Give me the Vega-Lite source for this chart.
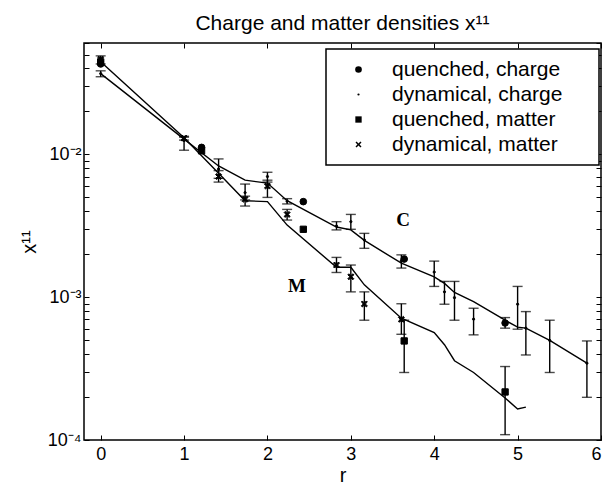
{
  "$schema": "https://vega.github.io/schema/vega-lite/v6.json",
  "autosize": "none",
  "width": 517,
  "height": 397,
  "padding": {"left": 84, "top": 43, "right": 4, "bottom": 46},
  "background": "white",
  "title": {
    "text": "Charge and matter densities x¹¹",
    "font": "Liberation Sans",
    "fontSize": 21,
    "fontWeight": "normal",
    "color": "black",
    "anchor": "middle",
    "baseline": "alphabetic",
    "offset": -8
  },
  "datasets": {
    "lines": [
      {"curve": "C", "r": 0, "v": 0.0368},
      {"curve": "C", "r": 1, "v": 0.0128},
      {"curve": "C", "r": 1.414, "v": 0.0083},
      {"curve": "C", "r": 1.732, "v": 0.0066},
      {"curve": "C", "r": 2, "v": 0.0063},
      {"curve": "C", "r": 2.236, "v": 0.00474},
      {"curve": "C", "r": 2.828, "v": 0.0031},
      {"curve": "C", "r": 3, "v": 0.00296},
      {"curve": "C", "r": 3.162, "v": 0.0025},
      {"curve": "C", "r": 3.606, "v": 0.00173},
      {"curve": "C", "r": 4, "v": 0.00139},
      {"curve": "C", "r": 4.123, "v": 0.00125},
      {"curve": "C", "r": 4.243, "v": 0.00108},
      {"curve": "C", "r": 4.472, "v": 0.00093},
      {"curve": "C", "r": 4.85, "v": 0.00069},
      {"curve": "C", "r": 5, "v": 0.000617},
      {"curve": "C", "r": 5.099, "v": 0.000607},
      {"curve": "C", "r": 5.385, "v": 0.000498},
      {"curve": "C", "r": 5.831, "v": 0.000345},
      {"curve": "M", "r": 0, "v": 0.0445},
      {"curve": "M", "r": 1, "v": 0.0131},
      {"curve": "M", "r": 1.414, "v": 0.00737},
      {"curve": "M", "r": 1.732, "v": 0.00474},
      {"curve": "M", "r": 2, "v": 0.00467},
      {"curve": "M", "r": 2.236, "v": 0.0032},
      {"curve": "M", "r": 2.828, "v": 0.00162},
      {"curve": "M", "r": 3, "v": 0.00162},
      {"curve": "M", "r": 3.162, "v": 0.00122},
      {"curve": "M", "r": 3.606, "v": 0.000713},
      {"curve": "M", "r": 4, "v": 0.000565},
      {"curve": "M", "r": 4.123, "v": 0.000465},
      {"curve": "M", "r": 4.243, "v": 0.000359},
      {"curve": "M", "r": 4.472, "v": 0.000297},
      {"curve": "M", "r": 4.85, "v": 0.000197},
      {"curve": "M", "r": 5, "v": 0.000165},
      {"curve": "M", "r": 5.099, "v": 0.00017}
    ],
    "pts": [
      {"series": "quenched, charge", "r": 0, "v": 0.043, "lo": null, "hi": null},
      {"series": "quenched, charge", "r": 1.21, "v": 0.0112, "lo": null, "hi": null},
      {"series": "quenched, charge", "r": 2.43, "v": 0.00467, "lo": null, "hi": null},
      {"series": "quenched, charge", "r": 3.64, "v": 0.00185, "lo": null, "hi": null},
      {"series": "quenched, charge", "r": 4.85, "v": 0.00066, "lo": null, "hi": null},
      {"series": "quenched, matter", "r": 0, "v": 0.0445, "lo": null, "hi": null},
      {"series": "quenched, matter", "r": 1.21, "v": 0.0106, "lo": null, "hi": null},
      {"series": "quenched, matter", "r": 2.43, "v": 0.00299, "lo": null, "hi": null},
      {"series": "quenched, matter", "r": 3.64, "v": 0.000494, "lo": 0.000297, "hi": 0.00069},
      {"series": "quenched, matter", "r": 4.85, "v": 0.000217, "lo": 0.000109, "hi": 0.000327},
      {"series": "dynamical, charge", "r": 0, "v": 0.0368, "lo": 0.035, "hi": 0.0385},
      {"series": "dynamical, charge", "r": 1, "v": 0.0125, "lo": 0.0107, "hi": 0.0132},
      {"series": "dynamical, charge", "r": 1.414, "v": 0.0079, "lo": 0.0068, "hi": 0.0093},
      {"series": "dynamical, charge", "r": 1.732, "v": 0.0054, "lo": 0.0048, "hi": 0.0062},
      {"series": "dynamical, charge", "r": 2, "v": 0.007, "lo": 0.0064, "hi": 0.0075},
      {"series": "dynamical, charge", "r": 2.236, "v": 0.0047, "lo": 0.0045, "hi": 0.0049},
      {"series": "dynamical, charge", "r": 2.828, "v": 0.00315, "lo": 0.00296, "hi": 0.00338},
      {"series": "dynamical, charge", "r": 3, "v": 0.00338, "lo": 0.00299, "hi": 0.0038},
      {"series": "dynamical, charge", "r": 3.162, "v": 0.00252, "lo": 0.0022, "hi": 0.0028},
      {"series": "dynamical, charge", "r": 3.606, "v": 0.0018, "lo": 0.0016, "hi": 0.00198},
      {"series": "dynamical, charge", "r": 4, "v": 0.0015, "lo": 0.00119, "hi": 0.00179},
      {"series": "dynamical, charge", "r": 4.123, "v": 0.00109, "lo": 0.000893, "hi": 0.00129},
      {"series": "dynamical, charge", "r": 4.243, "v": 0.000993, "lo": 0.00069, "hi": 0.00129},
      {"series": "dynamical, charge", "r": 4.472, "v": 0.000702, "lo": 0.000545, "hi": 0.000837},
      {"series": "dynamical, charge", "r": 4.85, "v": 0.00066, "lo": 0.000607, "hi": 0.00072},
      {"series": "dynamical, charge", "r": 5, "v": 0.000893, "lo": 0.000597, "hi": 0.00119},
      {"series": "dynamical, charge", "r": 5.099, "v": 0.000607, "lo": 0.000394, "hi": 0.000793},
      {"series": "dynamical, charge", "r": 5.385, "v": 0.000498, "lo": 0.000297, "hi": 0.00069},
      {"series": "dynamical, charge", "r": 5.831, "v": 0.000345, "lo": 0.000199, "hi": 0.000494},
      {"series": "dynamical, matter", "r": 0, "v": 0.0465, "lo": 0.043, "hi": 0.049},
      {"series": "dynamical, matter", "r": 1, "v": 0.013, "lo": 0.0126, "hi": 0.0134},
      {"series": "dynamical, matter", "r": 1.414, "v": 0.007, "lo": 0.0064, "hi": 0.0077},
      {"series": "dynamical, matter", "r": 1.732, "v": 0.00485, "lo": 0.00435, "hi": 0.0051},
      {"series": "dynamical, matter", "r": 2, "v": 0.006, "lo": 0.005, "hi": 0.0066},
      {"series": "dynamical, matter", "r": 2.236, "v": 0.0038, "lo": 0.00347, "hi": 0.00412},
      {"series": "dynamical, matter", "r": 2.828, "v": 0.00168, "lo": 0.00149, "hi": 0.0019},
      {"series": "dynamical, matter", "r": 3, "v": 0.00139, "lo": 0.00109, "hi": 0.00168},
      {"series": "dynamical, matter", "r": 3.162, "v": 0.000897, "lo": 0.00069, "hi": 0.00109},
      {"series": "dynamical, matter", "r": 3.606, "v": 0.0007, "lo": 0.00055, "hi": 0.0009}
    ],
    "labels": [
      {"label": "C", "r": 3.626, "v": 0.00348},
      {"label": "M", "r": 2.355, "v": 0.00119}
    ]
  },
  "config": {
    "view": {"stroke": "black", "strokeWidth": 1.5},
    "axis": {
      "domain": false,
      "grid": false,
      "tickColor": "black",
      "tickSize": -5,
      "tickWidth": 1,
      "labelColor": "black",
      "labelFont": "Liberation Sans",
      "labelFontSize": 18,
      "titleFont": "Liberation Sans",
      "titleFontSize": 20,
      "titleFontWeight": "normal",
      "titleColor": "black"
    },
    "legend": {
      "orient": "none",
      "legendX": 242,
      "legendY": 6,
      "strokeColor": "black",
      "strokeWidth": 1.5,
      "fillColor": "white",
      "padding": 10,
      "labelFont": "Liberation Sans",
      "labelFontSize": 21,
      "labelColor": "black",
      "labelOffset": 23,
      "labelLimit": 0,
      "rowPadding": 3,
      "symbolOffset": 12,
      "symbolFillColor": "black",
      "symbolStrokeColor": "black",
      "symbolStrokeWidth": 1.2,
      "symbolOpacity": 1,
      "titleOrient": "right",
      "titlePadding": 27,
      "titleFontSize": 10
    }
  },
  "layer": [
    {
      "data": {"name": "lines"},
      "mark": {"type": "line", "color": "black", "strokeWidth": 1.4},
      "encoding": {
        "x": {
          "field": "r", "type": "quantitative",
          "scale": {"domain": [-0.2, 6], "nice": false, "zero": false},
          "axis": {"orient": "bottom", "values": [0, 1, 2, 3, 4, 5, 6], "title": "r", "labelPadding": 10, "titlePadding": 2}
        },
        "y": {
          "field": "v", "type": "quantitative",
          "scale": {"type": "log", "domain": [0.0001, 0.0603], "nice": false},
          "axis": {
            "orient": "left",
            "values": [0.0001, 0.0002, 0.0003, 0.0004, 0.0005, 0.0006, 0.0007, 0.0008, 0.0009, 0.001, 0.002, 0.003, 0.004, 0.005, 0.006, 0.007, 0.008, 0.009, 0.01, 0.02, 0.03, 0.04, 0.05, 0.06],
            "labelExpr": "datum.value == 0.0001 ? '10⁻⁴' : datum.value == 0.001 ? '10⁻³' : datum.value == 0.01 ? '10⁻²' : ''",
            "title": "x¹¹",
            "labelPadding": 8,
            "titlePadding": 8
          }
        },
        "detail": {"field": "curve"}
      }
    },
    {
      "data": {"name": "pts"},
      "transform": [{"filter": "datum.lo != null"}],
      "mark": {"type": "errorbar", "color": "black", "thickness": 1.4, "ticks": {"size": 10, "thickness": 1.4, "color": "black"}},
      "encoding": {
        "x": {
          "field": "r", "type": "quantitative",
          "scale": {"domain": [-0.2, 6], "nice": false, "zero": false},
          "axis": {"orient": "top", "values": [0, 1, 2, 3, 4, 5, 6], "labels": false, "title": null}
        },
        "y": {
          "field": "lo", "type": "quantitative",
          "scale": {"type": "log", "domain": [0.0001, 0.0603], "nice": false},
          "axis": {
            "orient": "right", "labels": false, "title": null,
            "values": [0.0001, 0.0002, 0.0003, 0.0004, 0.0005, 0.0006, 0.0007, 0.0008, 0.0009, 0.001, 0.002, 0.003, 0.004, 0.005, 0.006, 0.007, 0.008, 0.009, 0.01, 0.02, 0.03, 0.04, 0.05, 0.06]
          }
        },
        "y2": {"field": "hi"}
      }
    },
    {
      "data": {"name": "pts"},
      "mark": {"type": "point", "filled": true, "color": "black", "stroke": "black", "strokeWidth": 1, "opacity": 1},
      "encoding": {
        "x": {"field": "r", "type": "quantitative", "scale": {"domain": [-0.2, 6], "nice": false, "zero": false}, "axis": null},
        "y": {"field": "v", "type": "quantitative", "scale": {"type": "log", "domain": [0.0001, 0.0603], "nice": false}, "axis": null},
        "shape": {
          "field": "series", "type": "nominal",
          "scale": {
            "domain": ["quenched, charge", "dynamical, charge", "quenched, matter", "dynamical, matter"],
            "range": ["circle", "circle", "square", "M-1,-0.65L-0.65,-1L0,-0.35L0.65,-1L1,-0.65L0.35,0L1,0.65L0.65,1L0,0.35L-0.65,1L-1,0.65L-0.35,0Z"]
          },
          "legend": {
            "title": "\u00a0",
            "encode": {"symbols": {"update": {"stroke": {"value": "black"}, "strokeWidth": {"value": 1}, "fill": {"value": "black"}}}}
          }
        },
        "size": {
          "field": "series", "type": "nominal",
          "scale": {
            "type": "ordinal",
            "domain": ["quenched, charge", "dynamical, charge", "quenched, matter", "dynamical, matter"],
            "range": [44, 5, 40, 36]
          },
          "legend": {
            "title": "\u00a0",
            "encode": {"symbols": {"update": {"stroke": {"value": "black"}, "strokeWidth": {"value": 1}, "fill": {"value": "black"}}}}
          }
        }
      }
    },
    {
      "data": {"name": "labels"},
      "mark": {"type": "text", "font": "Liberation Serif", "fontWeight": "bold", "fontSize": 19, "color": "black"},
      "encoding": {
        "x": {"field": "r", "type": "quantitative", "scale": {"domain": [-0.2, 6], "nice": false, "zero": false}, "axis": null},
        "y": {"field": "v", "type": "quantitative", "scale": {"type": "log", "domain": [0.0001, 0.0603], "nice": false}, "axis": null},
        "text": {"field": "label"}
      }
    }
  ],
  "resolve": {"axis": {"x": "independent", "y": "independent"}}
}
